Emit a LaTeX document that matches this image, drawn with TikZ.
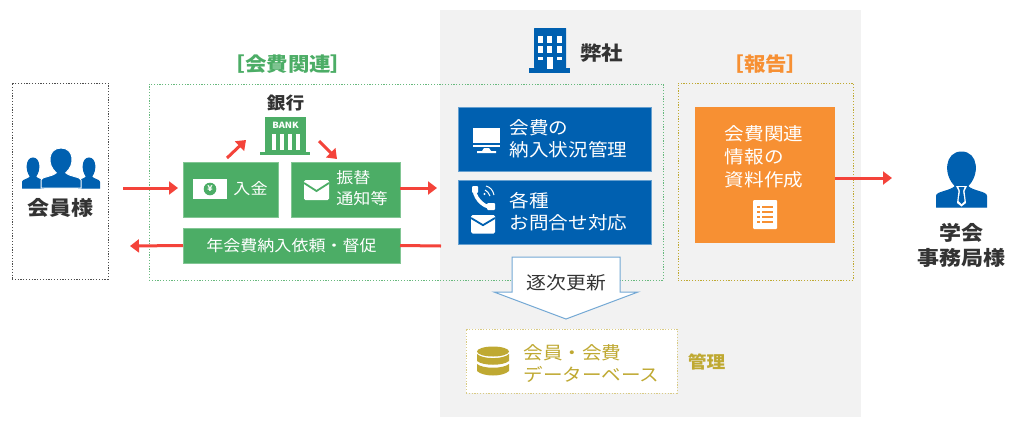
\documentclass[tikz,border=0pt]{standalone}
\usepackage{fontspec}
\setmainfont[FakeStretch=1.1]{Noto Sans CJK JP}
\usetikzlibrary{arrows.meta}
\definecolor{grn}{HTML}{4CAD66}
\definecolor{blu}{HTML}{0060B0}
\definecolor{org}{HTML}{F79033}
\definecolor{rdd}{HTML}{F4433A}
\definecolor{gry}{HTML}{F2F2F2}
\definecolor{gld}{HTML}{BFA932}
\definecolor{drk}{HTML}{333333}
\tikzset{
 lbl/.style={inner sep=0pt,align=left,text=white},
 darkbold/.style={inner sep=0pt,align=center,text=drk,font=\bfseries},
 boxnode/.style={anchor=north west,inner sep=0pt,outer sep=0pt},
 grnbox/.style={boxnode,fill=grn,draw=grn!70!white,line width=.6pt},
 blubox/.style={boxnode,fill=blu,draw=blu!60!white,line width=.6pt},
 redarrow/.style={draw=rdd,line width=3pt,-{Triangle[length=9pt,width=13pt]}},
 redline/.style={draw=rdd,line width=3pt},
 smallarrow/.style={draw=rdd,line width=3pt,-{Triangle[length=9pt,width=13pt]}},
 dots/.style={line width=1pt,dash pattern=on 1.2pt off 1.6pt},
}
\newcommand{\fsz}[2]{\fontsize{#1}{#2}\selectfont}
% bust: cx, top, half width, height, colour of the outline
\newcommand{\bust}[5]{%
 \begin{scope}[shift={(#1,#2)},x=#3pt,y=-#4pt]
  \fill[blu,draw=#5,line width=1pt] (-1,1) -- (-1,.80) .. controls (-1,.72) and (-.45,.72) .. (-.24,.62)
     .. controls (-.72,.42) and (-.66,0) .. (0,0) .. controls (.66,0) and (.72,.42) .. (.24,.62)
     .. controls (.45,.72) and (1,.72) .. (1,.80) -- (1,1) -- cycle;
 \end{scope}}
\newcommand{\mailicon}[5]{% x y w h, background colour
 \fill[white,rounded corners=1.5pt] (#1,#2) rectangle ++(#3,#4);
 \draw[#5,line width=1.8pt] (#1,#2+3) -- (#1+#3/2,#2+#4*.55) -- (#1+#3,#2+3);}
\begin{document}
\begin{tikzpicture}[x=1pt,y=-1pt]
\useasboundingbox (0,0) rectangle (1024,426);
\fill[white] (0,0) rectangle (1024,426);
\fill[gry] (440,10) rectangle (861,417);

% dotted frames
\node[boxnode,draw=black!70,dots,minimum width=96pt,minimum height=196pt] (members) at (12,83) {};
\node[boxnode,draw=grn!85!white,dots,minimum width=514pt,minimum height=196pt] (feeframe) at (149,84) {};
\node[boxnode,draw=gld,dots,minimum width=175pt,minimum height=197pt] (repframe) at (678,83) {};

% headings
\node[inner sep=0pt,text=grn,font=\fsz{19.5}{22}\bfseries] (feehead) at (288,64) {［会費関連］};
\node[inner sep=0pt,text=org,font=\fsz{19.5}{22}\bfseries] (rephead) at (765.5,64) {［報告］};
\node[darkbold,font=\fsz{17}{20}\bfseries] (banklabel) at (285.5,103) {銀行};
\node[darkbold,font=\fsz{19.5}{22}\bfseries] (company) at (601.5,53) {弊社};

% members
\bust{33}{158}{10.5}{30}{blu}
\bust{89}{158}{10.5}{30}{blu}
\bust{61}{148}{20}{40}{white}
\node[darkbold,font=\fsz{20}{24}\bfseries] (memberlabel) at (60.5,208) {会員様};

% bank icon
\fill[grn] (265,117) rectangle (306,152);
\fill[grn] (260,152) rectangle (310,155);
\node[inner sep=0pt,text=white,font=\fsz{8.5}{10}\bfseries] (banktext) at (285.5,125.5) {BANK};
\foreach \bx in {272,280,288,296} \fill[white] (\bx,134) rectangle ++(4,16);
\coordinate (bankin) at (246,140);
\coordinate (bankout) at (319,141);

% green boxes
\node[grnbox,minimum width=95pt,minimum height=55pt] (deposit) at (183,162) {};
\node[grnbox,minimum width=109pt,minimum height=55pt] (notice) at (291,162) {};
\node[grnbox,minimum width=217pt,minimum height=35pt,text=white,font=\fsz{15.5}{20}] (request) at (183,228) {年会費納入依頼・督促};
\fill[white] (193,179) rectangle (227,199);
\fill[grn] (210,189) circle (6.3);
\node[inner sep=0pt,text=white,font=\fsz{8}{9}\bfseries] (yen) at (210,189) {¥};
\node[lbl,font=\fsz{15.5}{20}] (depositlabel) at (250.5,188.5) {入金};
\mailicon{304}{180}{25}{20}{grn}
\node[lbl,font=\fsz{15.5}{21}] (noticelabel) at (362,188.5) {振替\\通知等};

% blue boxes
\node[blubox,minimum width=193pt,minimum height=64pt] (status) at (458,107) {};
\node[blubox,minimum width=193pt,minimum height=64pt] (inquiry) at (458,180) {};
\fill[white] (473,128) rectangle (500,143);
\fill[white] (473,145) rectangle (500,147);
\fill[white] (484,148) -- (489,148) -- (491,151) -- (496,151) -- (496,153) -- (477,153) -- (477,151) -- (482,151) -- cycle;
\node[lbl,font=\fsz{17.8}{22}] (statuslabel) at (568.5,139) {会費の\\納入状況管理};
% phone
\draw[white,line width=3.6pt] (474.5,187) .. controls (473,196) and (482,207) .. (492,207.5);
\fill[white,rounded corners=1pt] (472,186) rectangle (478,193);
\fill[white,rounded corners=1pt] (487,203) rectangle (495,210);
\draw[white,line width=1pt] (486,186) .. controls (490,187) and (493,190) .. (494,195);
\draw[white,line width=1pt] (485,190) .. controls (487,191) and (489,193) .. (490,196);
\fill[white] (484.5,194) circle (1.2);
\mailicon{471}{215}{24}{18.5}{blu}
\node[lbl,font=\fsz{17.8}{22}] (inquirylabel) at (568.5,212) {各種\\お問合せ対応};

% orange box
\node[boxnode,fill=org,minimum width=140pt,minimum height=136pt] (report) at (695,107) {};
\node[lbl,font=\fsz{17.8}{23}] (reportlabel) at (764,157) {会費関連\\情報の\\資料作成};
\fill[white,rounded corners=1pt] (753,200) rectangle (777,229);
\foreach \ry in {206,211,216,221} {
 \fill[org] (757,\ry) rectangle ++(3,2);
 \fill[org] (762,\ry) rectangle ++(11,2);
}

% person right
\bust{961.5}{152}{25}{55}{blu}
\fill[white] (956,186) -- (967,186) -- (964.5,191) -- (966,203) -- (961.5,206.5) -- (957,203) -- (958.5,191) -- cycle;
\fill[blu] (958.5,187) -- (964.5,187) -- (963,191) -- (964.5,201) -- (961.5,204) -- (958.5,201) -- (960,191) -- cycle;
\node[darkbold,font=\fsz{20}{25}\bfseries] (officelabel) at (961,245.5) {学会\\事務局様};

% building icon
\fill[blu,rounded corners=.5pt] (534,28) rectangle (566,68);
\fill[blu] (529,68) rectangle (570,73);
\foreach \wx in {538,547,557} \foreach \wy in {36,46} \fill[white] (\wx,\wy) rectangle ++(5,7);
\fill[white] (538,57) rectangle ++(5,3);
\fill[white] (557,57) rectangle ++(5,3);
\fill[white] (547,57) rectangle ++(6,12);

% update arrow
\path[fill=white,draw=blu!55!white,line width=1pt]
 (512,257) -- (620,257) -- (620,292) -- (638,292) -- (566,319) -- (494,292) -- (512,292) -- cycle;
\node[inner sep=0pt,text=drk,font=\fsz{18}{22}] (updatelabel) at (566.5,283) {逐次更新};

% database
\node[boxnode,fill=white,draw=gld!60!white,dots,line width=1pt,minimum width=211pt,minimum height=64pt] (dbbox) at (466,329) {};
\fill[gld] (493,351.5) ellipse[x radius=16,y radius=5];
\fill[gld] (477,354) .. controls (483,359.5) and (503,359.5) .. (509,354) -- (509,361) .. controls (503,366) and (483,366) .. (477,361) -- cycle;
\fill[gld] (477,364) .. controls (483,369) and (503,369) .. (509,364) -- (509,371) .. controls (503,377) and (483,377) .. (477,371) -- cycle;
\node[lbl,text=gld,font=\fsz{17.8}{22}] (dblabel) at (591.5,364) {会員・会費\\データーベース};
\node[inner sep=0pt,text=gld,font=\fsz{17}{20}\bfseries] (mgmtlabel) at (706.5,362) {管理};

% connectors
\coordinate (memberout) at (123,188);
\coordinate (memberin) at (130,246);
\coordinate (noticeout) at (437,188);
\coordinate (officein) at (892,178);
\coordinate (depout) at (227,158);
\coordinate (notin) at (337,159);
\coordinate (requestin) at (441,246);
\draw[redarrow,shorten >=5pt] (memberout) -- (memberout -| deposit.west);
\draw[smallarrow] (depout) -- (bankin);
\draw[smallarrow] (bankout) -- (notin);
\draw[redarrow] (noticeout -| notice.east) -- (noticeout);
\draw[redline] (request.east) -- (requestin);
\draw[redarrow] (request.west) -- (memberin);
\draw[redarrow] (officein -| report.east) -- (officein);
\end{tikzpicture}
\end{document}
